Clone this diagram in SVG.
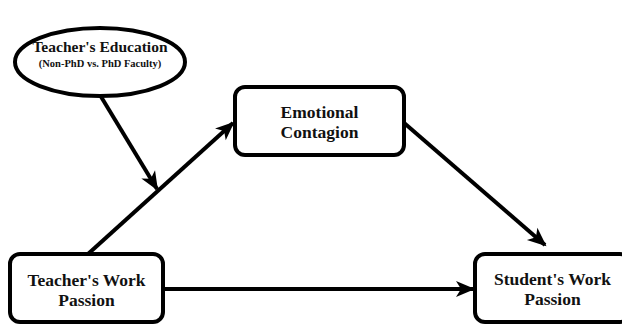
<svg xmlns="http://www.w3.org/2000/svg" width="622" height="327" viewBox="0 0 622 327">
<style>
.node{fill:#fff;stroke:#000;stroke-width:4}
.lbl{font-family:"Liberation Serif","Times New Roman","DejaVu Serif",serif;font-weight:bold;fill:#111;text-anchor:middle}
.big{font-size:17.5px}
.edge{stroke:#000;stroke-width:4;fill:none;marker-end:url(#ah)}
</style>
<defs>
<marker id="ah" markerUnits="userSpaceOnUse" markerWidth="24" markerHeight="20" viewBox="-20 -10 24 20" refX="0" refY="0" orient="auto">
<path d="M2,0 L-17,-8 L-12,0 L-17,8 Z" fill="#000"/>
</marker>
</defs>
<rect width="622" height="327" fill="#fff"/>
<g id="connectors">
<line class="edge" x1="88" y1="254" x2="233" y2="123"/>
<line class="edge" x1="403" y1="122" x2="545" y2="245"/>
<line class="edge" x1="163" y1="289" x2="473" y2="289"/>
<line class="edge" x1="100" y1="95" x2="157" y2="189"/>
</g>
<g id="teachers-education">
<ellipse class="node" cx="100" cy="62" rx="85" ry="34"/>
<text class="lbl" x="100" y="52" font-size="15.5">Teacher's Education</text>
<text class="lbl" x="100" y="67" font-size="10.5">(Non-PhD vs. PhD Faculty)</text>
</g>
<g id="emotional-contagion">
<rect class="node" x="235" y="87" width="169" height="68" rx="10"/>
<text class="lbl big" x="319.5" y="118">Emotional</text>
<text class="lbl big" x="319.5" y="138">Contagion</text>
</g>
<g id="teachers-work-passion">
<rect class="node" x="10" y="254" width="153" height="68" rx="10"/>
<text class="lbl big" x="86.5" y="286">Teacher's Work</text>
<text class="lbl big" x="86.5" y="306">Passion</text>
</g>
<g id="students-work-passion">
<rect class="node" x="475" y="254" width="155" height="68" rx="10"/>
<text class="lbl big" x="552.5" y="285">Student's Work</text>
<text class="lbl big" x="552.5" y="305">Passion</text>
</g>
</svg>
